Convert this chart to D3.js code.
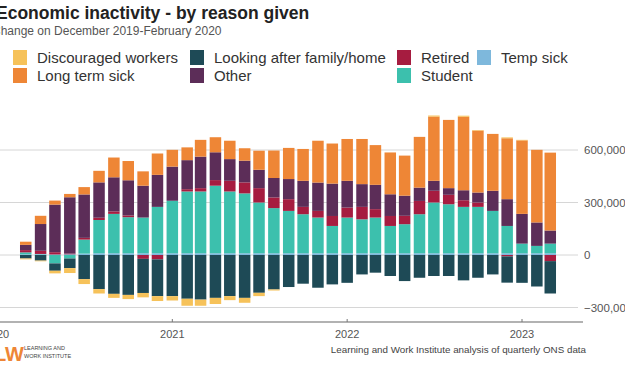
<!DOCTYPE html>
<html>
<head>
<meta charset="utf-8">
<script src="https://cdn.jsdelivr.net/npm/d3@7"></script>
<style>
  body { margin: 0; background: #fff; }
  svg { display: block; font-family: "Liberation Sans", Arial, sans-serif; }
</style>
</head>
<body>
<div id="chart"></div>
<script>
// change on Dec 2019-Feb 2020, thousands, rolling quarters
var months = ["2020-03","2020-04","2020-05","2020-06","2020-07","2020-08","2020-09","2020-10","2020-11","2020-12",
  "2021-01","2021-02","2021-03","2021-04","2021-05","2021-06","2021-07","2021-08","2021-09","2021-10","2021-11","2021-12",
  "2022-01","2022-02","2022-03","2022-04","2022-05","2022-06","2022-07","2022-08","2022-09","2022-10","2022-11","2022-12",
  "2023-01","2023-02","2023-03"];

var discouraged = [-5,-4,-15,-28,-28,-25,-23,-24,-25,-28,-25,-40,-35,-35,-23,-28,-19,-6,0,0,0,0,0,0,0,0,0,0,6,0,6,3,0,5,3,0,0];
var longTermSick = [18,47,23,19,42,66,113,110,82,122,96,73,96,86,105,71,109,157,178,182,239,229,239,258,227,239,229,290,367,390,420,354,325,348,420,415,445];
var lookingAfter = [-20,-32,-42,-55,-138,-195,-222,-228,-195,-210,-235,-250,-255,-245,-235,-245,-216,-197,-183,-164,-187,-168,-159,-111,-101,-120,-149,-130,-120,-120,-145,-130,-111,-150,-159,-180,-185];
var other = [30,153,272,322,248,202,195,201,182,183,195,166,180,159,124,124,105,111,115,149,162,185,153,130,139,124,115,76,57,38,57,57,115,153,170,134,75];
var retired = [13,18,13,4,10,13,14,10,-22,-25,0,13,19,32,61,63,82,61,67,42,38,57,57,71,48,57,48,76,67,54,38,25,0,-8,0,0,-35];
var student = [11,2,-48,-20,80,190,225,206,204,265,300,353,353,386,353,342,290,258,242,223,204,156,204,194,204,156,166,223,290,280,265,265,242,156,55,42,55];
var tempSick = [4,4,3,4,8,10,10,10,10,10,10,10,10,10,10,10,10,10,10,10,10,10,10,10,10,10,10,10,10,10,10,10,10,10,10,10,10];

var yTicks = [-300000, 0, 300000, 600000];
var yearTicks = ["2020","2021","2022","2023"];

var series = [
  {key: "discouraged", name: "Discouraged workers", color: "#f6c25a", values: discouraged},
  {key: "longTermSick", name: "Long term sick", color: "#ee8636", values: longTermSick},
  {key: "lookingAfter", name: "Looking after family/home", color: "#1e4a56", values: lookingAfter},
  {key: "other", name: "Other", color: "#5c2d58", values: other},
  {key: "retired", name: "Retired", color: "#a61c40", values: retired},
  {key: "student", name: "Student", color: "#3cc0ad", values: student},
  {key: "tempSick", name: "Temp sick", color: "#7eb8dc", values: tempSick}
];

var width = 625, height = 375;
var parseMonth = d3.timeParse("%Y-%m");

var rows = months.map(function (m, i) {
  var row = {date: parseMonth(m)};
  series.forEach(function (s) { row[s.key] = s.values[i] * 1000; });
  return row;
});

// stacking order from zero outwards (ggplot style: last legend entry nearest zero)
var stackKeys = series.map(function (s) { return s.key; }).reverse();
var stacked = d3.stack().keys(stackKeys).offset(d3.stackOffsetDiverging)(rows);
var colorOf = {};
series.forEach(function (s) { colorOf[s.key] = s.color; });

var x = d3.scaleTime()
  .domain([new Date(2020, 0, 1), new Date(2023, 0, 1)])
  .range([-3, 522]);
var y = d3.scaleLinear()
  .domain([-300000, 600000])
  .range([307.5, 150]);

var svg = d3.select("#chart").append("svg")
  .attr("width", width)
  .attr("height", height);

// title
svg.append("text")
  .attr("x", -4).attr("y", 19)
  .attr("font-size", 17.5).attr("font-weight", "bold").attr("fill", "#222")
  .text("Economic inactivity - by reason given");
svg.append("text")
  .attr("x", -8).attr("y", 34.5)
  .attr("font-size", 12).attr("fill", "#555")
  .text("Change on December 2019-February 2020");

// legend, two rows filled column by column
var legendCols = [13, 190, 397, 477];
var legendRows = [50, 68];
var legend = svg.append("g").attr("class", "legend");
series.forEach(function (s, i) {
  var col = Math.floor(i / 2), row = i % 2;
  var g = legend.append("g")
    .attr("transform", "translate(" + legendCols[col] + "," + legendRows[row] + ")");
  g.append("rect").attr("width", 14).attr("height", 15).attr("fill", s.color);
  g.append("text").attr("x", 24).attr("y", 12.5)
    .attr("font-size", 15).attr("fill", "#333")
    .text(s.name);
});

// gridlines + right-hand labels
var grid = svg.append("g").attr("class", "grid");
grid.selectAll("line").data(yTicks).enter().append("line")
  .attr("x1", 0).attr("x2", 578)
  .attr("y1", function (d) { return y(d); })
  .attr("y2", function (d) { return y(d); })
  .attr("stroke", "#d6d6d6").attr("stroke-width", 1);
grid.selectAll("text").data(yTicks).enter().append("text")
  .attr("x", 584)
  .attr("y", function (d) { return y(d); })
  .attr("dy", "0.35em")
  .attr("font-size", 11.5).attr("fill", "#555")
  .text(d3.format(","));

// bars
var barW = 11.5;
svg.append("g").attr("class", "bars")
  .selectAll("g").data(stacked).enter().append("g")
  .attr("fill", function (d) { return colorOf[d.key]; })
  .selectAll("rect").data(function (d) { return d; }).enter().append("rect")
  .attr("x", function (d) { return x(d.data.date) - barW / 2; })
  .attr("y", function (d) { return y(Math.max(d[0], d[1])); })
  .attr("width", barW)
  .attr("height", function (d) { return Math.abs(y(d[0]) - y(d[1])); });

// x axis
var xAxis = svg.append("g").attr("class", "x-axis");
xAxis.append("line")
  .attr("x1", 0).attr("x2", 583)
  .attr("y1", 322).attr("y2", 322)
  .attr("stroke", "#999").attr("stroke-width", 1.5);
xAxis.selectAll("line.tick").data(yearTicks).enter().append("line")
  .attr("class", "tick")
  .attr("x1", function (d) { return x(parseMonth(d + "-01")); })
  .attr("x2", function (d) { return x(parseMonth(d + "-01")); })
  .attr("y1", 319).attr("y2", 322)
  .attr("stroke", "#777");
xAxis.selectAll("text").data(yearTicks).enter().append("text")
  .attr("x", function (d) { return x(parseMonth(d + "-01")); })
  .attr("y", 338)
  .attr("text-anchor", "middle")
  .attr("font-size", 11).attr("fill", "#555")
  .text(function (d) { return d; });

// footer
var logo = svg.append("g").attr("transform", "translate(0,344)");
logo.append("text").attr("x", -6).attr("y", 17)
  .attr("font-size", 20).attr("font-weight", "bold").attr("fill", "#ee8636")
  .text("LW");
logo.append("text").attr("x", 24).attr("y", 6)
  .attr("font-size", 5.5).attr("fill", "#444")
  .text("LEARNING AND");
logo.append("text").attr("x", 24).attr("y", 14)
  .attr("font-size", 5.5).attr("fill", "#444")
  .text("WORK INSTITUTE");

svg.append("text")
  .attr("x", 586).attr("y", 353)
  .attr("text-anchor", "end")
  .attr("font-size", 9.8).attr("fill", "#444")
  .text("Learning and Work Institute analysis of quarterly ONS data");
</script>
</body>
</html>
